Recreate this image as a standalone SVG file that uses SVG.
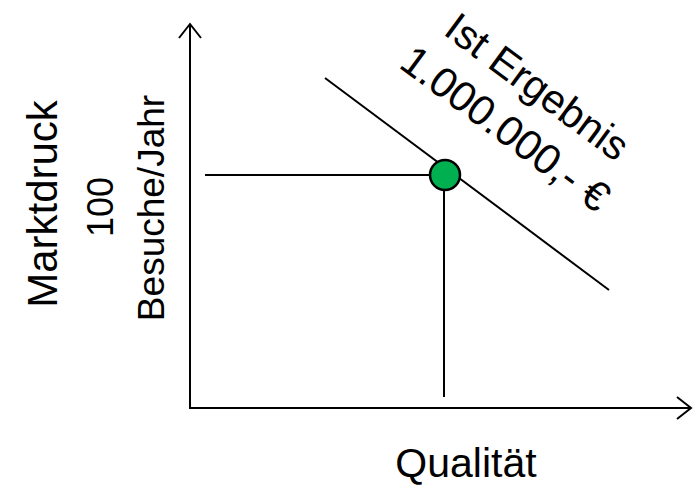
<svg xmlns="http://www.w3.org/2000/svg" width="693" height="485" viewBox="0 0 693 485">
<style>
.ln{stroke:#000;stroke-width:2;fill:none}
.t{font-family:"Liberation Sans",Arial,sans-serif;fill:#000}
</style>
<defs>
<marker id="arr" viewBox="0 0 20 24" refX="17" refY="12" markerWidth="20" markerHeight="24" markerUnits="userSpaceOnUse" orient="auto">
<path d="M3,1 L17,12 L3,23" fill="none" stroke="#000" stroke-width="2"/>
</marker>
</defs>
<rect width="693" height="485" fill="#fff"/>
<g id="connectors">
<line class="ln" x1="190" y1="409" x2="190" y2="24" marker-end="url(#arr)"/>
<line class="ln" x1="189" y1="408" x2="691" y2="408" marker-end="url(#arr)"/>
<line class="ln" x1="205" y1="175" x2="445" y2="175"/>
<line class="ln" x1="444" y1="175" x2="444" y2="397"/>
<line class="ln" x1="325" y1="78" x2="609" y2="290"/>
</g>
<g id="point">
<circle cx="445" cy="175" r="15" fill="#00b050" stroke="#000" stroke-width="2.5"/>
</g>
<g id="labels">
<text class="t" font-size="42" text-anchor="middle" transform="translate(57,204) rotate(-90)">Marktdruck</text>
<text class="t" font-size="36" text-anchor="middle" transform="translate(113,207) rotate(-90)">100</text>
<text class="t" font-size="37" text-anchor="middle" transform="translate(164,208) rotate(-90)">Besuche/Jahr</text>
<text class="t" font-size="41" text-anchor="middle" x="466" y="477">Qualität</text>
<text class="t" font-size="41" text-anchor="middle" transform="translate(529,98) rotate(36.5)">Ist Ergebnis</text>
<text class="t" font-size="42" text-anchor="middle" transform="translate(497,140) rotate(36.5)">1.000.000,- €</text>
</g>
</svg>
